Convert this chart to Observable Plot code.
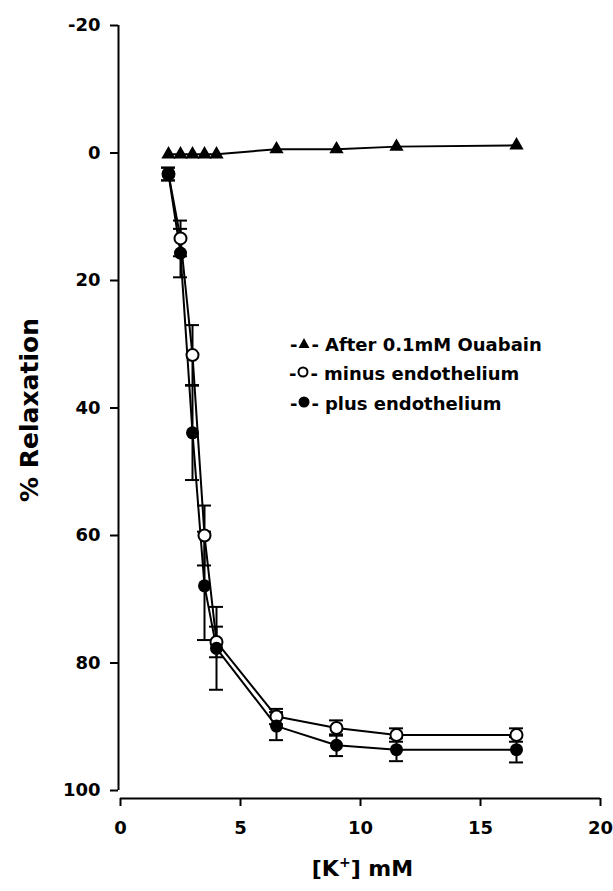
<!DOCTYPE html>
<html>
<head>
<meta charset="utf-8">
<script src="https://cdn.jsdelivr.net/npm/d3@7"></script>
<script src="https://cdn.jsdelivr.net/npm/@observablehq/plot@0.6"></script>
<style>
  body { margin: 0; background: #fff; }
  #wrap { position: relative; width: 613px; height: 891px; }
  .leg { position: absolute; font: bold 18px "DejaVu Sans", sans-serif; color: #000; white-space: nowrap; line-height: 18px; }
  .leg svg { vertical-align: 2px; margin: 0 1px; }
  .leg .t { margin-left: 6px; }
</style>
</head>
<body>
<div id="wrap"></div>
<script>
// Data
const kConc      = [2, 2.5, 3, 3.5, 4, 6.5, 9, 11.5, 16.5];          // [K+] mM
const ouabain    = [0.2, 0.2, 0.2, 0.2, 0.2, -0.6, -0.6, -1.0, -1.2]; // After 0.1mM Ouabain
const minusEndo  = [3.3, 13.4, 31.7, 60.0, 76.7, 88.4, 90.2, 91.3, 91.3];
const minusErr   = [1.0, 2.8, 4.7, 4.7, 2.4, 1.2, 1.2, 1.05, 1.05];
const plusEndo   = [3.3, 15.7, 43.9, 67.9, 77.7, 89.9, 92.9, 93.6, 93.6];
const plusErr    = [1.0, 3.8, 7.4, 8.5, 6.5, 2.2, 1.7, 1.8, 2.0];
const xTicks = [0, 5, 10, 15, 20];
const yTicks = [-20, 0, 20, 40, 60, 80, 100];
const legendLabels = ["After 0.1mM Ouabain", "minus endothelium", "plus endothelium"];
const xTitle = "[K+] mM";
const yTitle = "% Relaxation";

const rows = kConc.map((x, i) => ({
  x, ouab: ouabain[i],
  minus: minusEndo[i], minusErr: minusErr[i],
  plus: plusEndo[i], plusErr: plusErr[i]
}));

const capOpts = {insetLeft: -7, insetRight: -7, strokeWidth: 2, stroke: "black"};

const chart = Plot.plot({
  width: 613,
  height: 891,
  marginLeft: 118,
  marginRight: 13,
  marginTop: 25,
  marginBottom: 93,
  style: {fontFamily: "'DejaVu Sans', sans-serif", fontWeight: "bold", background: "white", color: "black"},
  x: {domain: [0, 20], insetLeft: 2},
  y: {domain: [-20, 100], reverse: true, insetBottom: 8},
  marks: [
    Plot.ruleX([0], {y1: -20, y2: 100, dx: -2, strokeWidth: 2}),
    Plot.ruleY([100], {x1: 0, x2: 20, dy: 8, strokeWidth: 2}),
    Plot.axisY({ticks: yTicks, tickSize: 8, tickPadding: 10, fontSize: 18, strokeWidth: 2, label: null, tickFormat: d => String(d)}),
    Plot.axisX({ticks: xTicks, tickSize: 8, tickPadding: 15, fontSize: 18, strokeWidth: 2, label: null, tickFormat: d => String(d)}),
    Plot.text([yTitle], {frameAnchor: "left", dx: -89, dy: -2, rotate: -90, fontSize: 25, fontWeight: "bold", textAnchor: "middle", lineAnchor: "middle"}),
    Plot.text([xTitle], {frameAnchor: "bottom", dx: 3, dy: 70, fontSize: 22, fontWeight: "bold", textAnchor: "middle", lineAnchor: "middle"}),
    // connecting lines
    Plot.line(rows, {x: "x", y: "ouab", strokeWidth: 2}),
    Plot.line(rows, {x: "x", y: "minus", strokeWidth: 2}),
    Plot.line(rows, {x: "x", y: "plus", strokeWidth: 2}),
    // error bars
    Plot.ruleX(rows, {x: "x", y1: d => d.plus - d.plusErr, y2: d => d.plus + d.plusErr, strokeWidth: 2}),
    Plot.ruleY(rows, {y: d => d.plus - d.plusErr, x1: "x", x2: "x", ...capOpts}),
    Plot.ruleY(rows, {y: d => d.plus + d.plusErr, x1: "x", x2: "x", ...capOpts}),
    Plot.ruleX(rows, {x: "x", y1: d => d.minus - d.minusErr, y2: d => d.minus + d.minusErr, strokeWidth: 2}),
    Plot.ruleY(rows, {y: d => d.minus - d.minusErr, x1: "x", x2: "x", ...capOpts}),
    Plot.ruleY(rows, {y: d => d.minus + d.minusErr, x1: "x", x2: "x", ...capOpts}),
    // markers
    Plot.dot(rows, {x: "x", y: "ouab", symbol: "triangle", r: 5.3, fill: "black", stroke: "none"}),
    Plot.dot(rows, {x: "x", y: "minus", r: 6, fill: "white", stroke: "black", strokeWidth: 2}),
    Plot.dot(rows, {x: "x", y: "plus", r: 6.5, fill: "black", stroke: "none"})
  ]
});

// superscript "+" in the x title
d3.select(chart).selectAll("text").filter(function () { return this.textContent === xTitle; })
  .each(function () {
    const t = d3.select(this);
    t.text("");
    t.append("tspan").text("[K");
    t.append("tspan").attr("dy", -9).attr("font-size", 14).text("+");
    t.append("tspan").attr("dy", 9).text("] mM");
  });

const wrap = document.getElementById("wrap");
wrap.appendChild(chart);

// legend (inside the plot area)
const legendRows = [
  {label: legendLabels[0], sym: "triangle", left: 290, top: 336},
  {label: legendLabels[1], sym: "open", left: 289, top: 365},
  {label: legendLabels[2], sym: "filled", left: 290, top: 395}
];
for (const r of legendRows) {
  const div = document.createElement("div");
  div.className = "leg";
  div.style.left = r.left + "px";
  div.style.top = r.top + "px";
  let svg;
  if (r.sym === "triangle") {
    svg = '<svg width="12" height="12" viewBox="0 0 12 12"><path d="M6 1 L11.5 11 L0.5 11 Z" fill="black"/></svg>';
  } else if (r.sym === "open") {
    svg = '<svg width="12" height="12" viewBox="0 0 12 12"><circle cx="6" cy="6" r="4.5" fill="white" stroke="black" stroke-width="2"/></svg>';
  } else {
    svg = '<svg width="12" height="12" viewBox="0 0 12 12"><circle cx="6" cy="6" r="5.5" fill="black"/></svg>';
  }
  div.innerHTML = '<span>-</span>' + svg + '<span>-</span><span class="t">' + r.label + '</span>';
  wrap.appendChild(div);
}
</script>
</body>
</html>
